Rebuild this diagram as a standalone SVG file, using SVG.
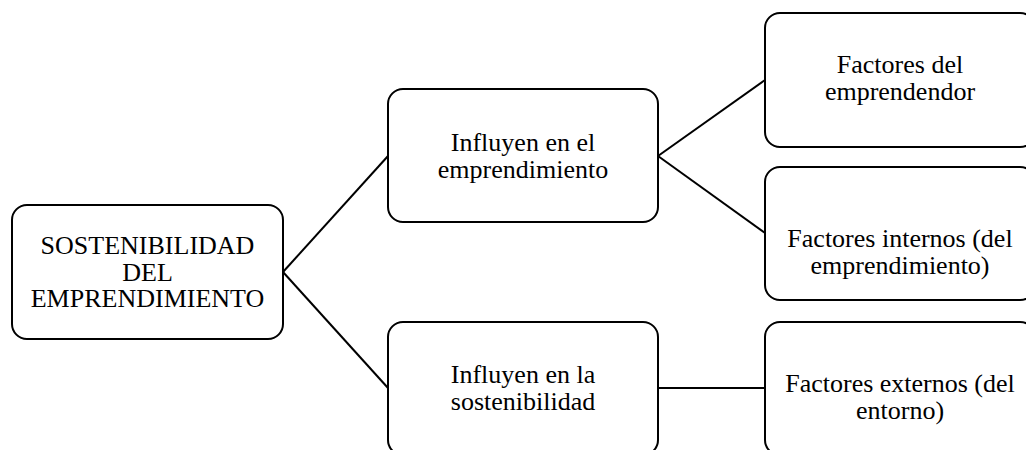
<svg xmlns="http://www.w3.org/2000/svg" width="1026" height="450" viewBox="0 0 1026 450">
<style>
.box{fill:#fff;stroke:#000;stroke-width:2}
.t{font-family:"Liberation Serif","Times New Roman",serif;font-size:26px;fill:#000;text-anchor:middle}
.c{stroke:#000;stroke-width:2;fill:none}
</style>
<rect width="1026" height="450" fill="#fff"/>
<g id="connectors">
<line class="c" x1="283" y1="272" x2="388" y2="156"/>
<line class="c" x1="283" y1="272" x2="388" y2="388"/>
<line class="c" x1="658" y1="156" x2="765" y2="80"/>
<line class="c" x1="658" y1="156" x2="765" y2="233"/>
<line class="c" x1="658" y1="388" x2="765" y2="388"/>
</g>
<g id="root">
<rect class="box" x="12" y="205" width="271" height="134" rx="15"/>
<text class="t" x="147.5" y="254"><tspan x="147.5">SOSTENIBILIDAD</tspan><tspan x="147.5" dy="26.5">DEL</tspan><tspan x="147.5" dy="26.5">EMPRENDIMIENTO</tspan></text>
</g>
<g id="mid1">
<rect class="box" x="388" y="89" width="270" height="133" rx="15"/>
<text class="t" x="523" y="151"><tspan x="523">Influyen en el</tspan><tspan x="523" dy="26.5">emprendimiento</tspan></text>
</g>
<g id="mid2">
<rect class="box" x="388" y="322" width="270" height="133" rx="15"/>
<text class="t" x="523" y="383"><tspan x="523">Influyen en la</tspan><tspan x="523" dy="26.5">sostenibilidad</tspan></text>
</g>
<g id="right1">
<rect class="box" x="765" y="13" width="270" height="134" rx="15"/>
<text class="t" x="900" y="73"><tspan x="900">Factores del</tspan><tspan x="900" dy="26.5">emprendendor</tspan></text>
</g>
<g id="right2">
<rect class="box" x="765" y="167" width="270" height="133" rx="15"/>
<text class="t" x="900" y="247"><tspan x="900">Factores internos (del</tspan><tspan x="900" dy="26.5">emprendimiento)</tspan></text>
</g>
<g id="right3">
<rect class="box" x="765" y="322" width="270" height="133" rx="15"/>
<text class="t" x="900" y="392"><tspan x="900">Factores externos (del</tspan><tspan x="900" dy="26.5">entorno)</tspan></text>
</g>
</svg>
